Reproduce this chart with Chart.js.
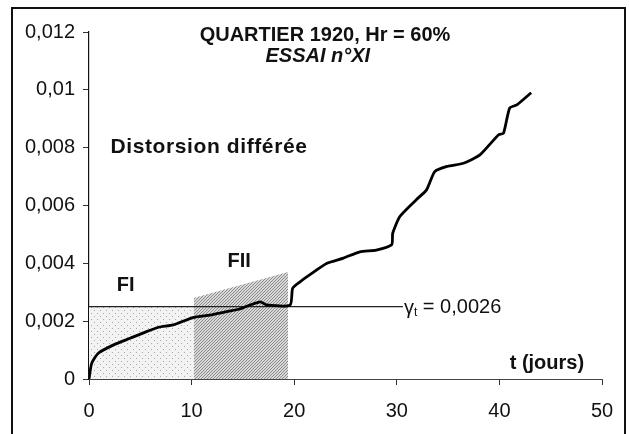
<!DOCTYPE html>
<html>
<head>
<meta charset="utf-8">
<script src="https://cdn.jsdelivr.net/npm/chart.js@4.4.1/dist/chart.umd.min.js"></script>
<style>
  html, body { margin: 0; padding: 0; background: #fff; }
  #wrap { position: relative; width: 629px; height: 434px; }
</style>
</head>
<body>
<div id="wrap"><canvas id="distChart" width="629" height="434"></canvas></div>
<script>
// creep test curve
const tDays = [0, 0.26, 0.9, 2.4, 4.0, 5.6, 6.8, 8.2, 10.2, 11.8, 13.4, 14.7, 15.7, 16.7, 17.3,
    19.6, 19.85, 20.6, 21.5, 23.2, 24.8, 26.4, 28.0, 29.5, 29.6, 30.3, 31.9, 32.9, 33.7, 34.9,
    36.5, 38.1, 39.9, 40.4, 41.0, 41.7, 43.1];
const distortion = [0, 0.00054, 0.00089, 0.00118, 0.00141, 0.00164, 0.00179, 0.00187, 0.00213, 0.00221,
    0.00233, 0.00242, 0.00256, 0.00267, 0.00256, 0.00256, 0.00314, 0.00337, 0.0036, 0.004, 0.00418,
    0.0044, 0.00446, 0.00464, 0.00504, 0.00562, 0.0062, 0.00654, 0.00717, 0.00735, 0.00746, 0.00775,
    0.00844, 0.0085, 0.00937, 0.00948, 0.0099];

// phase zones and threshold
const zoneFI_t = [0, 10.2];
const zoneFI_y = [0.0025, 0.0025];
const zoneFII_t = [10.2, 19.4];
const zoneFII_y = [0.0028, 0.0037];
const threshold_t = [0, 30.6];
const threshold_y = [0.0025, 0.0025];

const xTicks = [0, 10, 20, 30, 40, 50];
const yTicks = [0, 0.002, 0.004, 0.006, 0.008, 0.01, 0.012];

function pts(xa, ya) {
    return xa.map(function(x, i) { return { x: x, y: ya[i] }; });
}

// small dotted fills like the scanned shading
function stipple(size, bg, fg, dots) {
    const c = document.createElement('canvas');
    c.width = size; c.height = size;
    const g = c.getContext('2d');
    g.fillStyle = bg;
    g.fillRect(0, 0, size, size);
    g.fillStyle = fg;
    dots.forEach(function(d) { g.fillRect(d[0], d[1], 1, 1); });
    return g.createPattern(c, 'repeat');
}

const ctx = document.getElementById('distChart').getContext('2d');
const fiFill = stipple(6, '#f3f3f3', '#a8a8a8', [[1, 1], [4, 4]]);
const fiiFill = stipple(3, '#d8d8d8', '#8c8c8c', [[0, 0], [1, 2], [2, 1]]);

const FONT = '"Liberation Sans", Arial, sans-serif';

const annotations = {
    id: 'annotations',
    afterDraw: function(chart) {
        const c = chart.ctx;
        const xs = chart.scales.x, ys = chart.scales.y;
        const px = function(v) { return xs.getPixelForValue(v); };
        const py = function(v) { return ys.getPixelForValue(v); };
        c.save();
        c.fillStyle = '#111';
        c.textBaseline = 'middle';

        c.textAlign = 'center';
        c.font = 'bold 20px ' + FONT;
        c.fillText('QUARTIER 1920, Hr = 60%', px(23.0), py(0.01188));
        c.font = 'italic bold 20px ' + FONT;
        c.fillText('ESSAI n°XI', px(22.3), py(0.01114));

        c.textAlign = 'left';
        c.font = 'bold 21px ' + FONT;
        c.letterSpacing = '0.6px';
        c.fillText('Distorsion différée', px(2.1), py(0.00803));
        c.letterSpacing = '0px';
        c.font = 'bold 20px ' + FONT;
        c.fillText('FI', px(2.7), py(0.00322));
        c.fillText('FII', px(13.5), py(0.00405));
        c.fillText('t (jours)', px(41.0), py(0.00052));

        // threshold label
        c.font = '20px ' + FONT;
        let x = px(30.7);
        const y = py(0.00246);
        c.fillText('γ', x, y + 1);
        x += c.measureText('γ').width;
        c.font = '12px ' + FONT;
        c.fillText('t', x, y + 5);
        x += c.measureText('t').width;
        c.font = '20px ' + FONT;
        c.fillText(' = 0,0026', x, y);

        // outer frame
        c.strokeStyle = '#111';
        c.lineWidth = 2;
        c.strokeRect(12, 8, 613, 440);
        c.restore();
    }
};

try {
    new Chart(ctx, {
        type: 'line',
        data: {
            datasets: [
                {
                    data: pts(tDays, distortion),
                    borderColor: '#000',
                    borderWidth: 2.8,
                    pointRadius: 0,
                    fill: false,
                    tension: 0.2,
                    order: 0
                },
                {
                    data: pts(threshold_t, threshold_y),
                    borderColor: '#222',
                    borderWidth: 1.2,
                    pointRadius: 0,
                    fill: false,
                    order: 1
                },
                {
                    data: pts(zoneFII_t, zoneFII_y),
                    borderWidth: 0,
                    borderColor: 'rgba(0,0,0,0)',
                    backgroundColor: fiiFill,
                    pointRadius: 0,
                    fill: 'origin',
                    order: 2
                },
                {
                    data: pts(zoneFI_t, zoneFI_y),
                    borderWidth: 0,
                    borderColor: 'rgba(0,0,0,0)',
                    backgroundColor: fiFill,
                    pointRadius: 0,
                    fill: 'origin',
                    order: 3
                }
            ]
        },
        options: {
            responsive: false,
            animation: false,
            layout: { padding: { top: 32, right: 27, left: 0, bottom: 0 } },
            plugins: {
                legend: { display: false },
                tooltip: { enabled: false }
            },
            scales: {
                x: {
                    type: 'linear',
                    min: 0,
                    max: 50,
                    afterBuildTicks: function(s) { s.ticks = xTicks.map(function(v) { return { value: v }; }); },
                    afterFit: function(s) { s.height = 55; },
                    border: { display: true, color: '#444', width: 1 },
                    grid: { drawOnChartArea: false, drawTicks: true, tickLength: 6, color: '#333' },
                    ticks: {
                        color: '#111',
                        padding: 14,
                        maxRotation: 0,
                        font: { family: FONT, size: 20 }
                    }
                },
                y: {
                    type: 'linear',
                    min: 0,
                    max: 0.012,
                    afterBuildTicks: function(s) { s.ticks = yTicks.map(function(v) { return { value: v }; }); },
                    afterFit: function(s) { s.width = 89; },
                    border: { display: true, color: '#111', width: 1.2 },
                    grid: { drawOnChartArea: false, drawTicks: true, tickLength: 6, color: '#333' },
                    ticks: {
                        color: '#111',
                        padding: 8,
                        font: { family: FONT, size: 20 },
                        callback: function(v) { return String(+v.toFixed(4)).replace('.', ','); }
                    }
                }
            }
        },
        plugins: [annotations]
    });
} catch (error) {
    console.error('Error initializing chart:', error);
}
</script>
</body>
</html>
